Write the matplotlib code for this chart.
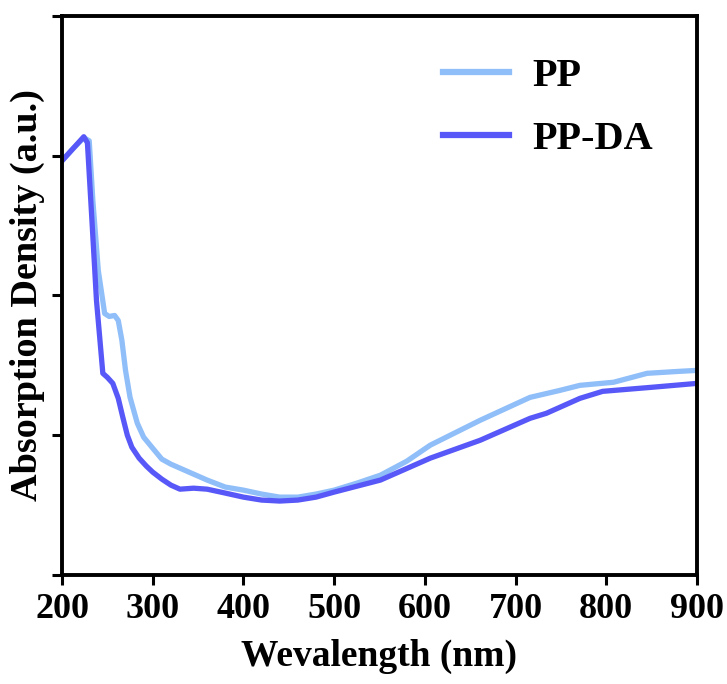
import matplotlib.pyplot as plt

# wavelength (nm) and absorption (a.u.)
pp_x = [200, 212, 224, 230, 234, 240, 247, 252, 258, 262, 266, 270, 275, 283, 290,
        300, 310, 320, 340, 360, 380, 400, 420, 440, 460, 480, 500, 525, 551, 580,
        606, 661, 716, 749, 771, 808, 845, 880, 900]
pp_y = [2.964, 3.05, 3.129, 3.107, 2.679, 2.179, 1.871, 1.85, 1.857, 1.821, 1.679,
        1.464, 1.271, 1.086, 0.986, 0.907, 0.829, 0.793, 0.736, 0.679, 0.629, 0.607,
        0.579, 0.557, 0.557, 0.579, 0.607, 0.657, 0.714, 0.814, 0.929, 1.107, 1.271,
        1.321, 1.357, 1.379, 1.443, 1.457, 1.464]

ppda_x = [200, 212, 224, 228, 233, 238, 245, 250, 256, 262, 267, 272, 277, 285, 293,
          300, 310, 320, 330, 345, 360, 380, 400, 420, 440, 460, 480, 500, 551, 606,
          661, 716, 734, 771, 796, 850, 900]
ppda_y = [2.964, 3.05, 3.136, 3.093, 2.536, 1.964, 1.443, 1.414, 1.371, 1.264, 1.129,
          1.0, 0.914, 0.836, 0.779, 0.736, 0.686, 0.643, 0.614, 0.621, 0.614, 0.586,
          0.557, 0.536, 0.529, 0.536, 0.557, 0.593, 0.679, 0.836, 0.964, 1.121, 1.157,
          1.264, 1.314, 1.343, 1.371]

x_ticks = [200, 300, 400, 500, 600, 700, 800, 900]

plt.rcParams["font.family"] = "Liberation Serif"
plt.rcParams["font.weight"] = "bold"

fig = plt.figure(figsize=(7.27, 6.84), dpi=100)
ax = fig.add_axes([0.0853, 0.1594, 0.8734, 0.8172])

ax.plot(pp_x, pp_y, color="#8fbef9", lw=3.8, label="PP")
ax.plot(ppda_x, ppda_y, color="#5858f8", lw=3.8, label="PP-DA")

ax.set_xlim(200, 900)
ax.set_ylim(0, 4)
ax.set_xticks(x_ticks)
ax.set_yticks([0, 1, 2, 3, 4])
ax.set_yticklabels([])
ax.tick_params(axis="both", width=2.2, length=7, labelsize=26, direction="out")
ax.tick_params(axis="x", pad=6)
for s in ax.spines.values():
    s.set_linewidth(2.8)

ax.set_xlabel("Wevalength (nm)", fontsize=27, fontweight="bold", labelpad=9)
ax.set_ylabel("Absorption Density (a.u.)", fontsize=27.5, fontweight="bold", labelpad=2)

leg = ax.legend(loc="upper left", bbox_to_anchor=(0.60, 0.925), frameon=False,
                fontsize=29, handlelength=1.64, handletextpad=0.57, labelspacing=0.65,
                borderpad=0, borderaxespad=0)
for line in leg.get_lines():
    line.set_linewidth(4.5)

plt.savefig("out.png", dpi=100)
